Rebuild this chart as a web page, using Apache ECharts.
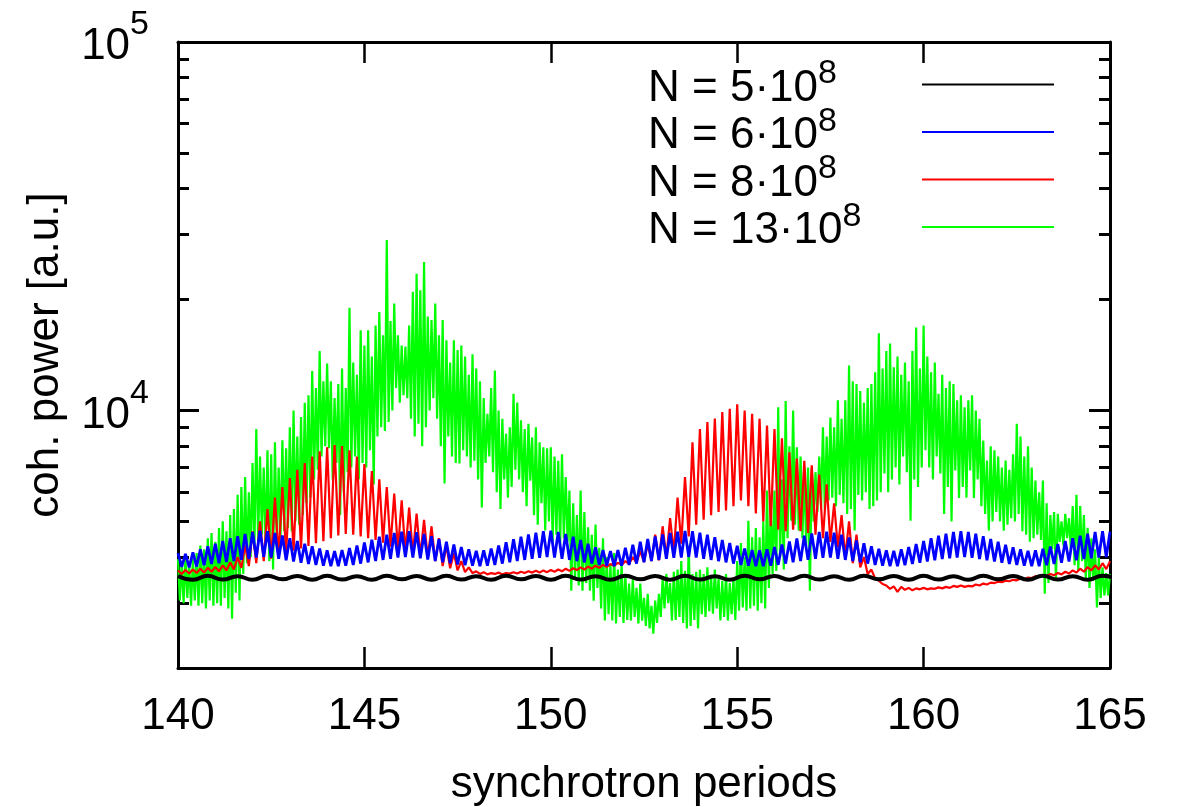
<!DOCTYPE html>
<html><head><meta charset="utf-8">
<script src="https://cdn.jsdelivr.net/npm/echarts@6/dist/echarts.min.js"></script>
<style>html,body{margin:0;padding:0;background:#fff}#c{width:1182px;height:807px}</style>
</head><body><div id="c"></div>
<script>
// ---------------- data ----------------
const seriesNames = ['N = 5·10^8', 'N = 6·10^8', 'N = 8·10^8', 'N = 13·10^8'];
const legendBase = ['N = 5·10', 'N = 6·10', 'N = 8·10', 'N = 13·10'];
const legendExp = ['8', '8', '8', '8'];

const xStart = 140;
const stepBlack = 0.4;   // sample spacing (synchrotron periods)
const stepBlue = 0.1;
const stepRed = 0.1;
const stepGreen = 0.05;

const xTickValues = [140, 145, 150, 155, 160, 165];
const yMajorTicks = [10000, 100000];
const yMajorExp = ['4', '5'];
const yMinorTicks = [3000, 4000, 5000, 6000, 7000, 8000, 9000, 20000, 30000, 40000, 50000, 60000, 70000, 80000, 90000];

const black = [
3555,3470,3560,3475,3550,3470,3560,3480,3555,3470,3560,3475,3550,3470,3560,3480,
3555,3470,3560,3475,3550,3470,3560,3480,3555,3470,3560,3475,3550,3470,3560,3480,
3555,3470,3560,3475,3550,3470,3560,3480,3555,3470,3560,3475,3550,3470,3560,3480,
3555,3470,3560,3475,3550,3470,3560,3480,3555,3470,3560,3475,3550,3470,3560,3480
];

const blue = [
4100,3760,4080,3750,4120,3770,4200,3800,4280,3830,
4350,3850,4420,3880,4500,3900,4560,3930,4620,3950,
4680,3990,4720,4010,4700,3990,4650,3960,4580,3920,
4500,3890,4420,3860,4350,3830,4280,3810,4220,3790,
4170,3780,4150,3780,4180,3790,4230,3810,4300,3840,
4380,3870,4460,3900,4540,3930,4600,3960,4650,3990,
4690,4000,4700,3990,4670,3970,4620,3940,4560,3900,
4480,3870,4400,3850,4330,3820,4260,3800,4200,3790,
4160,3780,4170,3790,4220,3810,4300,3840,4390,3870,
4470,3900,4540,3930,4610,3960,4660,3980,4700,4000,
4720,3990,4680,3960,4620,3930,4540,3900,4450,3870,
4350,3840,4250,3810,4180,3790,4150,3780,4180,3790,
4240,3810,4320,3840,4400,3870,4480,3900,4550,3930,
4610,3960,4650,3980,4690,3990,4710,4000,4700,3990,
4660,3960,4600,3930,4530,3900,4450,3870,4370,3840,
4290,3810,4220,3790,4180,3780,4170,3780,4200,3790,
4260,3810,4330,3840,4410,3870,4490,3900,4570,3930,
4640,3960,4680,3980,4690,3990,4660,3960,4600,3930,
4520,3900,4440,3870,4360,3840,4280,3810,4210,3790,
4170,3780,4160,3780,4200,3800,4260,3830,4340,3860,
4420,3890,4500,3920,4570,3950,4630,3970,4680,3990,
4700,4000,4680,3980,4630,3950,4560,3920,4480,3890,
4400,3860,4320,3830,4250,3810,4200,3790,4160,3780,
4170,3780,4210,3800,4270,3830,4340,3860,4420,3890,
4500,3920,4570,3950,4630,3970,4680,3990,4700,4000,
4690
];

const red = [
3680,3600,3690,3610,3700,3620,3720,3630,3740,3650,
3760,3660,3800,3680,3870,3700,4000,3740,4300,3780,
4700,3850,5000,3900,5400,3960,5800,4020,6200,4080,
6550,4160,6900,4220,7200,4290,7500,4360,7750,4420,
7950,4500,8050,4580,8000,4620,7800,4600,7500,4550,
7150,4500,6850,4450,6500,4380,6200,4270,5950,4180,
5700,4120,5450,4070,5250,4020,5050,3970,4850,3900,
4500,3780,4300,3730,4100,3680,3900,3640,3750,3620,
3660,3600,3640,3590,3620,3600,3630,3590,3620,3610,
3640,3610,3650,3620,3660,3630,3670,3630,3680,3640,
3690,3650,3700,3660,3720,3670,3730,3690,3750,3700,
3770,3720,3790,3740,3810,3760,3830,3790,3860,3810,
3900,3830,4000,3860,4150,3880,4350,3900,4600,3920,
4850,3980,5100,4100,5800,4350,6600,4550,8200,4900,
8900,5050,9300,5200,9500,5300,9900,5350,10100,5500,
10400,5700,10000,5500,9800,5250,9500,5000,9100,4850,
8900,4750,8400,4700,7700,4750,7400,4700,7300,4650,
7100,4600,6700,4500,6300,4400,5600,4250,5200,4000,
5000,3850,4600,3750,4000,3600,3700,3500,3450,3380,
3350,3280,3330,3220,3320,3260,3300,3250,3290,3270,
3300,3270,3290,3280,3310,3290,3320,3300,3340,3320,
3350,3320,3340,3330,3370,3350,3390,3370,3410,3400,
3430,3420,3450,3440,3470,3460,3500,3480,3520,3510,
3550,3530,3570,3550,3600,3570,3620,3590,3650,3610,
3680,3630,3720,3650,3760,3680,3800,3700,3850,3710,
3900
];

const green = [
3950,3050,3900,3000,4000,3100,3850,2950,3950,3050,
4100,2950,4300,3000,4200,2900,4500,3050,4650,2950,
4400,3000,4800,2950,5000,3100,4700,2900,5200,2720,
5400,3200,5900,3050,6200,3600,6600,3850,6000,4000,
7200,4200,8900,4400,7500,4600,7000,4300,7800,3900,
7600,3700,8200,4300,7000,4500,8300,4700,7900,4800,
9000,4700,10000,5000,8500,4900,9600,5200,10500,5600,
11000,5800,12800,6500,11500,6900,14500,7500,12000,8000,
13400,7900,12000,6500,10800,7200,11800,5200,13000,6000,
11500,6800,19000,7000,13500,7500,12500,6500,16500,7200,
15000,7000,16500,7800,14000,6300,17000,8500,18500,9000,
16000,8800,29000,9300,17500,10000,19500,11500,16000,10500,
15000,11000,14900,10800,17000,9500,21000,8500,23500,9200,
21200,8000,25300,9000,18000,10000,17600,10800,19500,9500,
16000,8000,17600,6340,15500,8500,13500,7500,15500,7200,
14600,7180,15000,7800,14000,7500,12500,7000,14200,7300,
13000,6500,12000,5450,10800,7200,9800,7500,11500,6800,
12840,6000,10000,5400,9500,6500,8650,5800,9000,6200,
11100,6900,10500,6500,9400,6000,8900,5500,9200,6450,
8450,5200,9000,4900,8200,5600,7940,4720,7900,5000,
7940,4400,7500,4600,7300,4300,7600,4500,6600,4400,
6060,3240,5600,3500,5200,3350,6060,3240,5300,3400,
4820,3240,4600,3045,4900,3300,4240,2900,4500,2690,
4000,2800,3840,2690,4100,2640,3700,2750,3840,2650,
3600,2700,3390,2690,3500,2750,3300,2640,3390,2690,
3100,2600,3180,2560,2950,2480,3050,2650,3180,2750,
3500,2900,3600,3000,3400,2690,3650,2700,3700,2750,
3900,2650,3670,2560,4300,2600,3600,2700,3650,2560,
3700,2800,3600,2750,3750,2850,3550,2810,3700,2900,
3500,2690,3450,2750,3600,2690,3400,2800,3500,2700,
3900,2860,4370,2920,4000,2860,5020,2900,4530,2950,
4800,2860,4530,3000,5000,2900,6060,3300,5500,3600,
6060,3670,10200,4000,6500,3700,10600,4500,8000,5020,
10000,4900,7940,4720,7500,4500,7000,4300,7000,3240,
7000,5000,6800,5300,7500,5500,9000,5400,8500,5700,
9570,5800,9000,5500,10650,5900,9500,5600,10650,5240,
13250,5400,12000,4720,11800,5900,11300,5700,10500,6000,
11500,5400,11800,5500,12700,5700,16200,6000,13000,6740,
14500,6000,15200,6500,13100,7000,14000,6300,12500,7500,
13500,6800,12000,5020,14500,6500,16800,6200,13000,7000,
17000,7800,14000,7000,12700,6500,13500,7500,11100,6740,
12500,5240,11500,6200,12000,5000,11800,6870,10650,5790,
11000,6200,10200,5800,10650,6870,11000,5790,10000,6500,
9500,5500,8290,5240,7310,4720,8000,5000,7800,5300,
7500,5000,7000,4720,7310,4900,6900,5100,7600,5000,
9200,5240,8500,4700,7500,4600,8000,4400,7000,4500,
6450,4600,6000,4450,6450,3180,5600,3400,5200,4200,
5300,3500,5240,4400,5000,4300,5240,4500,5100,4200,
5500,3800,5900,3670,5500,3900,5200,3500,4800,3300,
4500,3450,4200,2920,4000,3100,3750,3150,3620,3150,
3600
];

// ---------------- chart ----------------
const FONT = '"Liberation Sans", Arial, Helvetica, sans-serif';
function pairs(vals, step) {
  return vals.map((v, i) => [Math.round((xStart + i * step) * 1000) / 1000, v]);
}
function yLabel(v) {
  for (let i = 0; i < yMajorTicks.length; i++) {
    if (Math.abs(Math.log10(v) - Math.log10(yMajorTicks[i])) < 1e-6) return '{b|10}{s|' + yMajorExp[i] + '}';
  }
  return '';
}
const frame = { show: true, onZero: false, lineStyle: { color: '#000', width: 3 } };
const yBase = { type: 'log', logBase: 10, min: 2000, max: 100000, splitLine: { show: false }, minorTick: { show: false } };

const chart = echarts.init(document.getElementById('c'), null, { renderer: 'canvas' });
chart.setOption({
  animation: false,
  backgroundColor: '#fff',
  textStyle: { fontFamily: FONT, color: '#000' },
  grid: { left: 178, right: 72, top: 42, bottom: 139, containLabel: false, outerBoundsMode: 'none' },
  legend: {
    orient: 'vertical', right: 127, top: 57, padding: 0, align: 'right',
    itemWidth: 132, itemHeight: 14, itemGap: -6,
    selectedMode: false,
    data: seriesNames,
    lineStyle: { width: 2 },
    itemStyle: { opacity: 0, borderWidth: 0 },
    formatter: function (name) {
      const i = seriesNames.indexOf(name);
      return '{a|' + legendBase[i] + '}{s|' + legendExp[i] + '}';
    },
    textStyle: {
      width: 269,
      rich: {
        a: { fontSize: 44, lineHeight: 52, verticalAlign: 'bottom', align: 'left', fontFamily: FONT, color: '#000' },
        s: { fontSize: 34, height: 31, verticalAlign: 'top', align: 'left', fontFamily: FONT, color: '#000' }
      }
    }
  },
  xAxis: [
    {
      type: 'value', position: 'bottom', min: 140, max: 165, interval: 5,
      axisLine: frame,
      axisTick: { show: true, inside: true, length: 21, customValues: xTickValues, lineStyle: { color: '#000', width: 2.5 } },
      axisLabel: { show: true, margin: 27, fontSize: 44, color: '#000', fontFamily: FONT, customValues: xTickValues },
      splitLine: { show: false },
      name: 'synchrotron periods', nameLocation: 'middle', nameGap: 95, nameMoveOverlap: false,
      nameTextStyle: { fontSize: 44, color: '#000', fontFamily: FONT }
    },
    {
      type: 'value', position: 'top', min: 140, max: 165, interval: 5,
      axisLine: frame,
      axisTick: { show: true, inside: true, length: 21, customValues: xTickValues, lineStyle: { color: '#000', width: 2.5 } },
      axisLabel: { show: false },
      splitLine: { show: false }
    }
  ],
  yAxis: [
    Object.assign({}, yBase, {
      position: 'left',
      axisLine: frame,
      axisTick: { show: true, inside: true, length: 21, customValues: yMajorTicks, lineStyle: { color: '#000', width: 3 } },
      axisLabel: {
        show: true, margin: 29, customValues: yMajorTicks, formatter: yLabel,
        rich: {
          b: { fontSize: 44, lineHeight: 54, verticalAlign: 'bottom', fontFamily: FONT, color: '#000' },
          s: { fontSize: 34, height: 20, verticalAlign: 'top', fontFamily: FONT, color: '#000' }
        }
      },
      name: 'coh. power [a.u.]', nameLocation: 'middle', nameGap: 110, nameRotate: 90, nameMoveOverlap: false,
      nameTextStyle: { fontSize: 44, color: '#000', fontFamily: FONT }
    }),
    Object.assign({}, yBase, {
      position: 'left',
      axisLine: { show: false },
      axisTick: { show: true, inside: true, length: 11, customValues: yMinorTicks, lineStyle: { color: '#000', width: 3 } },
      axisLabel: { show: false }
    }),
    Object.assign({}, yBase, {
      position: 'right',
      axisLine: frame,
      axisTick: { show: true, inside: true, length: 21, customValues: yMajorTicks, lineStyle: { color: '#000', width: 3 } },
      axisLabel: { show: false }
    }),
    Object.assign({}, yBase, {
      position: 'right',
      axisLine: { show: false },
      axisTick: { show: true, inside: true, length: 11, customValues: yMinorTicks, lineStyle: { color: '#000', width: 3 } },
      axisLabel: { show: false }
    })
  ],
  series: [
    { name: seriesNames[0], type: 'line', data: pairs(black, stepBlack), smooth: 0.5, symbol: 'none', showSymbol: false,
      color: '#000000', lineStyle: { color: '#000000', width: 4 }, z: 6, silent: true, emphasis: { disabled: true } },
    { name: seriesNames[1], type: 'line', data: pairs(blue, stepBlue), symbol: 'none', showSymbol: false,
      color: '#0000ff', lineStyle: { color: '#0000ff', width: 2.8 }, z: 5, silent: true, emphasis: { disabled: true } },
    { name: seriesNames[2], type: 'line', data: pairs(red, stepRed), symbol: 'none', showSymbol: false,
      color: '#ff0000', lineStyle: { color: '#ff0000', width: 2.2 }, z: 4, silent: true, emphasis: { disabled: true } },
    { name: seriesNames[3], type: 'line', data: pairs(green, stepGreen), symbol: 'none', showSymbol: false,
      color: '#00ff00', lineStyle: { color: '#00ff00', width: 2.2 }, z: 3, silent: true, emphasis: { disabled: true } }
  ]
});
</script>
</body></html>
